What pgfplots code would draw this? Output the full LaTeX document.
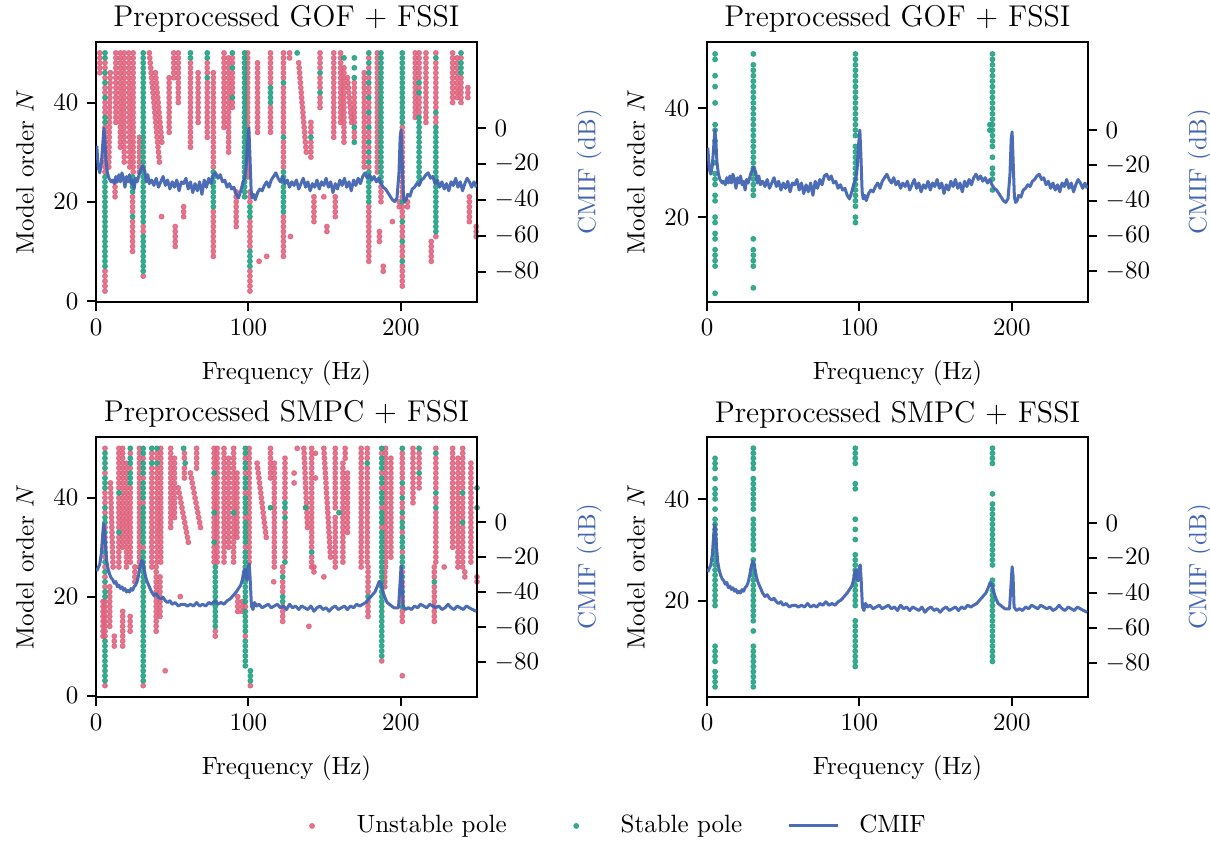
\documentclass[border=0pt]{standalone}
\usepackage{pgfplots}
\pgfplotsset{compat=1.18}
\usepackage{pgfplotstable}
\definecolor{unst}{RGB}{222,96,124}
\definecolor{stab}{RGB}{38,162,132}
\definecolor{cmif}{RGB}{66,100,178}

\pgfplotstableread[row sep=\\]{f d\\
0.5 -10\\1.5 -22\\2.5 -25\\3.5 -20\\4.5 -8\\5.2 0\\5.8 -6\\6.5 -18\\7.5 -25\\8.5 -28\\10 -30\\11 -29\\12 -31\\13 -27\\14 -30\\15 -26\\16 -30\\17 -25\\18 -28\\19 -33\\20 -27\\21 -30\\22 -26\\23 -31\\24 -29\\25 -34\\26 -28\\27 -30\\28 -27\\29 -24\\30.5 -21\\32 -24\\33 -30\\34 -26\\35 -31\\36.5 -29\\38 -32\\39.5 -28\\41 -33\\42.5 -30\\44 -27\\45.5 -32\\47 -29\\48.5 -34\\50 -30\\51.5 -33\\53 -29\\54.5 -35\\56 -30\\57.5 -31\\59 -28\\60.5 -34\\62 -30\\63.5 -36\\65 -31\\66.5 -35\\68 -30\\69.5 -37\\71 -29\\72.5 -33\\74 -28\\75.5 -31\\77 -26\\78.5 -25\\80 -28\\81.5 -26\\83 -30\\84.5 -29\\86 -33\\87.5 -31\\89 -34\\90.5 -33\\92 -37\\93.5 -39\\95 -35\\96.5 -30\\97.5 -28\\98.5 -22\\99.5 -8\\100.3 0\\101 -15\\101.8 -35\\102.5 -39\\103.5 -37\\104.5 -40\\106 -36\\107.5 -34\\109 -35\\110.5 -32\\112 -30\\113.5 -33\\115 -29\\116.5 -27\\118 -25\\119.5 -28\\121 -30\\122.5 -27\\124 -31\\125.5 -29\\127 -33\\128.5 -30\\130 -32\\131.5 -29\\133 -34\\134.5 -31\\136 -28\\137.5 -33\\139 -30\\140.5 -35\\142 -31\\143.5 -33\\145 -29\\146.5 -34\\148 -30\\149.5 -32\\151 -28\\152.5 -33\\154 -30\\155.5 -36\\157 -31\\158.5 -34\\160 -29\\161.5 -32\\163 -28\\164.5 -33\\166 -30\\167.5 -35\\169 -29\\170.5 -32\\172 -28\\173.5 -31\\175 -27\\176.5 -25\\178 -28\\179.5 -26\\181 -29\\182.5 -27\\184 -30\\185.5 -28\\187 -31\\188.5 -33\\190 -34\\191.5 -36\\193 -38\\194.5 -40\\196 -41\\197.5 -39\\198.8 -25\\199.6 -5\\200.2 -1\\200.9 -18\\201.7 -38\\202.5 -41\\203.5 -40\\204.5 -37\\206 -38\\207.5 -34\\209 -33\\210.5 -31\\212 -32\\213.5 -29\\215 -28\\216.5 -26\\218 -25\\219.5 -28\\221 -27\\222.5 -31\\224 -29\\225.5 -33\\227 -30\\228.5 -34\\230 -31\\231.5 -35\\233 -30\\234.5 -32\\236 -28\\237.5 -33\\239 -30\\240.5 -35\\242 -31\\243.5 -28\\245 -30\\246.5 -33\\248 -30\\249.5 -33\\
}\gofcmif

\pgfplotstableread[row sep=\\]{f d\\
0.5 -28\\1.5 -26\\2.5 -24\\3.5 -18\\4.3 -8\\5 -1\\5.6 -4\\6.3 -14\\7 -22\\8 -27\\9 -30\\10 -32\\11 -33\\12 -35\\13 -34\\14 -37\\15 -36\\16 -38\\17 -37\\18 -39\\19 -38\\20 -40\\21 -39\\22 -40\\23 -38\\24 -39\\25 -37\\26 -36\\27 -34\\28 -30\\29 -25\\30 -22\\30.8 -23\\31.6 -27\\32.5 -31\\33.5 -34\\34.5 -36\\35.5 -38\\36.5 -40\\38 -42\\39.5 -41\\41 -43\\42.5 -44\\44 -43\\45.5 -45\\47 -46\\48.5 -45\\50 -47\\52 -46\\54 -48\\56 -47\\58 -47\\60 -48\\62 -47\\64 -48\\66 -46\\68 -48\\70 -47\\72 -48\\74 -46\\76 -47\\78 -45\\80 -47\\82 -46\\84 -47\\86 -45\\88 -44\\90 -42\\92 -40\\93.5 -38\\95 -36\\96 -33\\97 -28\\97.7 -27\\98.4 -32\\99.2 -33\\100 -25\\100.6 -24\\101.3 -35\\102 -48\\103 -50\\104 -46\\105.5 -48\\107 -47\\109 -49\\111 -48\\113 -47\\115 -49\\117 -48\\119 -47\\121 -49\\123 -48\\125 -50\\127 -47\\129 -49\\131 -48\\133 -50\\135 -48\\137 -49\\139 -50\\141 -48\\143 -51\\145 -49\\147 -48\\149 -50\\151 -49\\153 -51\\155 -49\\157 -48\\159 -50\\161 -49\\163 -48\\165 -50\\167 -48\\169 -49\\171 -47\\173 -48\\175 -47\\177 -46\\179 -44\\181 -42\\183 -40\\184.5 -37\\185.8 -34\\187 -35\\188 -39\\189.5 -43\\191 -46\\192.5 -47\\194 -48\\195.5 -49\\197 -49\\198.5 -49\\199.5 -35\\200.2 -25\\200.8 -30\\201.5 -48\\203 -50\\205 -49\\207 -50\\209 -48\\211 -49\\213 -47\\215 -48\\217 -49\\219 -47\\221 -48\\223 -49\\225 -48\\227 -50\\229 -49\\231 -47\\233 -49\\235 -50\\237 -48\\239 -49\\241 -50\\243 -48\\245 -49\\247 -50\\249.5 -51\\
}\smpccmif

\pgfplotstableread[row sep=\\]{f N\\
2.5 50\\2.5 49\\2.5 48\\2.5 47\\2.5 46\\
5.9 48\\5.9 47\\5.9 45\\5.9 43\\5.9 42\\5.9 40\\5.9 39\\5.9 38\\5.9 35\\5.9 34\\5.9 33\\5.9 32\\5.9 31\\5.9 30\\5.9 29\\5.9 28\\5.9 27\\5.9 26\\5.9 6\\5.9 5\\5.9 4\\5.9 3\\5.9 2\\
9.4 46\\9.3 45\\9.3 44\\9.2 43\\9.2 42\\9.1 41\\9.0 40\\9.0 39\\8.9 38\\8.9 37\\8.8 36\\8.8 35\\8.7 34\\8.7 33\\8.6 32\\8.6 31\\8.5 30\\8.5 29\\8.4 28\\8.4 27\\
13 50\\13 49\\13 48\\13 47\\13 46\\13 45\\13 44\\13 43\\13 42\\13 41\\13 40\\13 39\\13 38\\13 37\\13 36\\12.5 24\\12.5 23\\12.5 22\\12.5 21\\
16 50\\16 49\\16 48\\16 47\\16 46\\16 45\\16 44\\16 43\\16 42\\16 41\\16 40\\16 39\\16 38\\16 37\\16 36\\16 35\\16 34\\16 33\\16 32\\16 31\\
18.5 50\\18.5 49\\18.5 48\\18.5 47\\18.5 46\\18.5 45\\18.5 44\\18.5 43\\18.5 42\\18.5 41\\18.5 40\\18.5 39\\18.5 38\\18.5 37\\18.5 36\\18.5 35\\18.5 34\\18.5 33\\18.5 32\\18.5 31\\18.5 30\\18.5 29\\18.5 28\\
21.5 50\\21.5 49\\21.5 48\\21.6 47\\21.6 46\\21.6 45\\21.7 44\\21.7 43\\21.7 42\\21.8 41\\21.8 40\\21.8 39\\21.9 38\\21.9 37\\21.9 36\\22 35\\22 34\\22 33\\22.1 32\\22.1 31\\22.1 30\\22.2 29\\22.2 28\\22.2 27\\
24.4 50\\24.4 49\\24.4 48\\24.4 47\\24.4 46\\24.4 45\\24.4 44\\24.4 43\\24.4 42\\24.4 41\\24.4 40\\24.4 39\\24.4 38\\24.4 37\\24.4 36\\24.4 35\\24.4 34\\24.4 33\\24.4 32\\24.4 31\\24.4 30\\24.4 29\\24.4 28\\24.4 27\\24.4 26\\
24 21\\24 20\\24 19\\24 18\\24 16\\24 15\\24 14\\24 13\\24 12\\24 11\\24 10\\
28.5 33\\28.5 32\\28.5 31\\28.5 30\\28.5 29\\28.5 28\\28.5 27\\28.5 26\\
31 15\\31 14\\31 5\\
35 50\\35.3 49\\35.6 48\\35.9 47\\36.2 46\\36.5 45\\36.8 44\\37.1 43\\37.4 42\\37.7 41\\38 40\\38.3 39\\38.6 38\\38.9 37\\39.2 36\\39.5 35\\39.8 34\\40.1 33\\40.4 32\\40.7 31\\41 30\\41.3 29\\41.6 28\\
39 46\\39.3 45\\39.6 44\\39.9 43\\40.2 42\\40.5 41\\40.8 40\\41.1 39\\41.4 38\\41.7 37\\42 36\\42.3 35\\42.6 34\\42.9 33\\43.2 32\\
43 17\\
48 45\\48 44\\48 43\\48 42\\48 41\\48 40\\48 39\\48 38\\48 37\\48 36\\48 35\\48 34\\
51 50\\51 49\\51 48\\51 47\\51 46\\51 45\\
54 50\\54 49\\54 48\\54 47\\54 46\\54 45\\54 44\\54 43\\54 42\\54 41\\54 40\\
52 15\\52 14\\52 13\\52 12\\52 11\\
57.5 19\\57.5 18\\57.5 17\\
62 48\\62 47\\62 46\\62 45\\62 44\\62 43\\62 42\\62 41\\62 40\\62 39\\62 38\\62 37\\62 36\\62 35\\62 34\\62 33\\62 32\\62 31\\
67 46\\67 45\\67 44\\67 43\\67 42\\67 41\\67 40\\67 39\\67 38\\67 37\\67 36\\
73 48\\73 47\\73 46\\73 44\\73 43\\73 42\\73 41\\73 40\\73 39\\73 38\\73 37\\73 36\\73 35\\73 34\\73 33\\
77 46\\77 45\\77 44\\77 43\\77 42\\77 41\\77 40\\77 39\\77 38\\77 37\\77 36\\77 35\\77 34\\77 33\\77 32\\77 31\\77 30\\77 29\\77 28\\77 27\\77 18\\77 17\\77 16\\77 15\\77 14\\77 13\\77 12\\77 11\\77 10\\77 9\\
84 50\\84 49\\84 48\\84 47\\84 46\\84 45\\84 44\\84 43\\84 42\\84 41\\84 40\\84 39\\84 38\\84 37\\84 36\\84 35\\
87 49\\87 48\\87 47\\87 46\\87 45\\87 44\\87 43\\87 42\\87 41\\87 40\\87 39\\87 38\\87 37\\87 36\\87 35\\87 34\\87 33\\87 32\\87 31\\87 30\\
89.5 49\\89.5 48\\89.5 46\\89.5 45\\89.5 44\\89.5 43\\89.5 42\\89.5 40\\89.5 39\\
92 22\\92 21\\92 20\\92 19\\92 18\\92 17\\92 16\\92 15\\
99.5 50\\99.5 49\\99.5 48\\99.5 47\\99.5 46\\99.5 45\\99.5 44\\99.5 43\\99.5 42\\99.5 41\\99.5 40\\99.5 39\\99.5 38\\99.5 37\\99.5 36\\99.5 35\\99.5 34\\99.5 33\\99.5 32\\99.5 31\\99.5 30\\99.5 29\\99.5 28\\99.5 27\\99.5 26\\99.5 25\\
101 22\\101 21\\101 20\\101 16\\101 15\\101 14\\101 13\\101 12\\101 11\\101 6\\101 5\\101 4\\101 3\\101 2\\
106 48\\106 47\\106 46\\106 45\\106 44\\106 43\\106 42\\106 41\\106 40\\106 39\\106 38\\106 37\\106 36\\106 35\\106 34\\107 8\\112 9\\
114.5 50\\114.5 49\\114.5 48\\114.5 47\\114.5 46\\114.5 45\\114.5 44\\114.5 39\\114.5 38\\114.5 37\\114.5 36\\114.5 35\\114.5 34\\
123 50\\123 49\\123 48\\123 47\\123 46\\123 45\\123 43\\123 42\\123 41\\123 40\\123 39\\123 38\\123 37\\123 36\\123 35\\123 34\\123 32\\123 31\\123 30\\123 29\\123 28\\123 27\\123 17\\123 16\\123 15\\123 14\\123 13\\123 12\\123 11\\123 10\\123 9\\
127 50\\127 49\\127.6 13\\
133 48\\133.3 47\\133.6 46\\133.8 45\\134.1 44\\134.4 43\\134.7 42\\134.9 41\\135.2 40\\135.5 39\\135.8 38\\136 37\\136.3 36\\136.6 35\\136.9 34\\137.1 33\\137.4 32\\137.7 31\\138 30\\
141 36\\141 35\\141 34\\141 32\\141 31\\141 30\\141 29\\
143 21\\143 20\\143 19\\143 18\\143 17\\143 16\\
147 50\\147 49\\147 48\\147 47\\147 45\\147 44\\147 43\\147 41\\147 40\\147 39\\
149.5 21\\151.5 15\\151.5 14\\
156 50\\156 49\\156 48\\156 47\\156 46\\156 45\\156 44\\156 43\\156 42\\156 41\\156 40\\156 39\\156 38\\156 37\\156 36\\156 35\\156 34\\156 33\\
160.5 50\\160.5 49\\160.5 48\\160.5 47\\160.5 46\\160.5 45\\160.5 44\\160.5 43\\160.5 42\\160.5 41\\160.5 40\\160.5 39\\160.5 38\\160.5 37\\160.5 36\\
157 21\\157 20\\157 19\\157 18\\157 17\\
162.7 47\\162.7 46\\162.7 45\\162.7 44\\162.7 43\\162.7 42\\162.7 41\\162.7 40\\162.7 39\\162.7 38\\162.7 37\\162.7 36\\162.7 35\\162.7 34\\162.7 33\\162.7 32\\
165 45\\165.3 44\\165.6 43\\165.9 42\\166.2 41\\166.5 40\\166.8 39\\167.1 38\\167.4 37\\167.7 36\\
169.5 44\\169.5 43\\169.5 42\\169.5 41\\169.5 40\\169.5 39\\169.5 38\\169.5 37\\169.5 36\\169.5 34\\169.5 33\\
179 49\\179 47\\179 45\\179 43\\179 42\\179 40\\179 39\\179 37\\179 36\\179 34\\179 33\\179 31\\179 29\\179 27\\179 19\\179 18\\179 17\\179 16\\179 15\\179 14\\179 13\\179 12\\179 11\\179 10\\179 9\\179 8\\
176 46\\176 45\\176 44\\176 43\\176 42\\176 41\\176 40\\176 39\\176 38\\176 37\\176 36\\176 35\\176 34\\176 33\\176 32\\176 31\\176 30\\176 29\\176 28\\176 27\\
184.6 50\\184.6 49\\184.6 48\\184.6 47\\184.6 46\\184.6 45\\184.6 44\\184.6 43\\184.6 42\\184.6 41\\184.6 40\\184.6 39\\184.6 38\\184.6 37\\184.6 36\\184.6 35\\184.6 34\\184.6 33\\184.6 32\\184.6 31\\184.6 30\\184.6 29\\184.6 28\\184.6 27\\184.6 26\\
187 23\\187 22\\187 21\\187 20\\186 14\\186 13\\186 12\\188.5 7\\188.5 6\\194.5 16\\
201 35\\201 34\\201 33\\201 32\\201 31\\201 30\\201 29\\201 28\\201 27\\201 26\\201 25\\201 24\\201 23\\201 22\\201 21\\201 19\\201 18\\201 17\\201 15\\201 14\\201 13\\201 11\\201 10\\201 9\\201 7\\201 6\\201 5\\201 4\\201 3\\
199 20\\199 19\\204.4 20\\204.4 19\\
209.5 50\\209.5 49\\209.5 48\\209.5 47\\209.5 46\\209.5 45\\209.5 44\\209.5 43\\209.5 42\\209.5 41\\209.5 40\\209.5 39\\209.5 38\\209.5 37\\
216.5 50\\216.5 49\\216.5 48\\216.5 47\\216.5 46\\216.5 45\\216.5 44\\216.5 43\\216.5 42\\216.5 41\\216.5 40\\216.5 39\\216.5 38\\216.5 37\\216.5 36\\
212 50\\212 49\\212 48\\212 47\\212 46\\212 45\\212 43\\212 41\\212 40\\212 39\\212 38\\
223 50\\223 48\\223 47\\223 46\\223 45\\223 44\\223 43\\223 42\\223 41\\223 40\\223 39\\223 37\\223 36\\223 13\\
220 12\\220 11\\220 10\\220 9\\220 8\\
234 50\\234 49\\234 48\\234 47\\234 46\\234 45\\234 44\\234 43\\234 42\\234 41\\234 40\\
237 49\\237 48\\237 47\\237 46\\237 45\\237 44\\237 43\\237 42\\237 41\\
239.5 49\\239.5 45\\239.5 44\\239.5 43\\239.5 42\\239.5 41\\239.5 40\\
244 43\\244 42\\244 41\\245 21\\245 20\\245 19\\245 18\\245 17\\245 16\\249.5 15\\249.5 14\\249.5 13\\
}\tlred

\pgfplotstableread[row sep=\\]{f N\\
5.9 50\\5.9 49\\5.9 46\\5.9 44\\5.9 41\\5.9 37\\5.9 36\\5.9 25\\5.9 24\\5.9 23\\5.9 22\\5.9 21\\5.9 20\\5.9 19\\5.9 18\\5.9 17\\5.9 16\\5.9 15\\5.9 14\\5.9 13\\5.9 12\\5.9 11\\5.9 10\\5.9 9\\5.9 8\\5.9 7\\
24 25\\24 24\\24 23\\24 22\\24 17\\
31 50\\31 49\\31 48\\31 47\\31 46\\31 45\\31 44\\31 43\\31 42\\31 41\\31 40\\31 39\\31 38\\31 37\\31 36\\31 35\\31 34\\31 33\\31 32\\31 31\\31 30\\31 29\\31 28\\31 27\\31 26\\31 25\\31 24\\31 23\\31 22\\31 21\\31 20\\31 19\\31 18\\31 17\\31 16\\31 13\\31 12\\31 11\\31 10\\31 9\\31 8\\31 7\\31 6\\
62 50\\62 49\\73 50\\73 49\\73 45\\
77 26\\77 25\\77 24\\77 23\\77 22\\77 21\\77 20\\77 19\\
89.5 50\\89.5 47\\89.5 41\\
97.5 50\\97.5 49\\97.5 48\\97.5 47\\97.5 46\\97.5 45\\97.5 44\\97.5 43\\97.5 42\\97.5 41\\97.5 40\\97.5 39\\97.5 38\\97.5 37\\97.5 36\\97.5 35\\97.5 34\\97.5 33\\97.5 32\\97.5 31\\97.5 30\\97.5 29\\97.5 28\\97.5 27\\97.5 26\\97.5 25\\97.5 24\\97.5 23\\97.5 22\\97.5 21\\
101 19\\101 18\\101 17\\101 10\\101 9\\101 8\\101 7\\
114.5 43\\114.5 42\\114.5 41\\114.5 40\\
123 44\\123 33\\123 26\\123 25\\123 24\\123 23\\123 22\\123 21\\123 20\\123 19\\123 18\\
132 50\\141 33\\147 46\\147 42\\162.7 49\\
169.5 49\\169.5 47\\169.5 45\\169.5 35\\169.5 32\\
179 50\\179 48\\179 46\\179 44\\179 41\\179 38\\179 35\\179 32\\179 30\\179 28\\179 26\\179 25\\179 24\\179 23\\179 22\\179 21\\179 20\\
187 50\\187 49\\187 48\\187 47\\187 46\\187 45\\187 44\\187 43\\187 42\\187 41\\187 40\\187 39\\187 38\\187 37\\187 36\\187 35\\187 34\\187 33\\187 32\\187 31\\187 30\\187 29\\187 28\\187 27\\187 26\\187 25\\187 24\\
201 50\\201 49\\201 48\\201 47\\201 46\\201 45\\201 44\\201 43\\201 42\\201 41\\201 40\\201 39\\201 38\\201 37\\201 36\\201 20\\201 16\\201 12\\201 8\\
212 44\\212 42\\212 37\\212 36\\212 35\\212 34\\212 33\\212 32\\212 31\\212 30\\212 29\\212 28\\212 27\\212 26\\212 25\\212 24\\
223 49\\223 38\\223 35\\223 34\\223 33\\223 32\\223 31\\223 30\\223 29\\223 28\\223 27\\223 26\\223 25\\223 24\\223 23\\223 22\\223 21\\223 20\\223 19\\223 18\\223 17\\223 16\\223 15\\223 14\\
239.5 50\\239.5 48\\239.5 47\\239.5 46\\
}\tlgreen

\pgfplotstableread[row sep=\\]{f N\\
5.9 50\\5.9 45\\5.9 41\\5.9 40\\5.9 39\\5.9 37\\5.9 34\\5.9 32\\5.9 30\\5.9 28\\5.9 26\\5.9 24\\5.9 22\\5.9 19\\5.9 18\\5.9 17\\5.9 16\\5.9 15\\5.9 14\\5.9 13\\5.9 12\\5.9 2\\
4.6 19\\4.6 18\\4.6 17\\4.6 16\\4.6 15\\4.6 14\\4.6 13\\4.6 12\\
9.5 43\\9.6 42\\9.7 41\\9.8 40\\9.9 39\\10 38\\10.1 37\\10.2 36\\10.3 35\\10.4 34\\10.5 33\\10.6 32\\10.7 31\\10.8 30\\10.9 29\\11 28\\11.1 27\\11.2 26\\
9 22\\9 21\\9 20\\9 19\\9 18\\9 17\\9 16\\9 15\\9 14\\12 12\\12 11\\12 10\\
17.5 17\\17.5 16\\17.5 15\\17.5 14\\17.5 13\\17.5 12\\17.5 11\\17.5 10\\
15 50\\15 49\\15 48\\15 47\\15 46\\15 45\\15 44\\15 43\\15 42\\15 40\\15 39\\15 38\\15 37\\15 36\\15 35\\15 34\\15 32\\15 31\\15 30\\15 29\\15 28\\15 27\\15 26\\
17.5 50\\17.5 49\\17.5 48\\17.5 47\\17.5 46\\17.5 45\\17.5 44\\17.5 43\\17.5 42\\17.5 41\\17.5 40\\17.5 39\\17.5 38\\17.5 37\\17.5 36\\17.5 35\\17.5 34\\17.5 33\\17.5 32\\17.5 31\\17.5 30\\
20 47\\20 46\\20 45\\20 44\\20 43\\20 42\\20 41\\20 40\\20 39\\20 38\\20 37\\20 36\\20 35\\20 34\\20 33\\20 32\\20 31\\20 30\\20 29\\20 28\\20 27\\20 26\\
22.5 49\\22.5 46\\22.5 42\\22.5 41\\22.5 40\\22.5 39\\22.5 38\\22.5 37\\22.5 36\\22.5 35\\22.5 34\\22.5 33\\22.5 32\\22.5 31\\22.5 30\\22.5 29\\22.5 28\\22.5 27\\
22.4 16\\22.4 15\\22.4 14\\22.4 13\\25.5 26\\25.5 25\\25.5 24\\25.5 23\\
28.5 50\\28.5 49\\28.5 48\\28.5 47\\28.5 46\\28.5 45\\28.5 44\\28.5 43\\28.5 42\\28.5 41\\28.5 40\\28.5 39\\28.5 38\\28.5 37\\28.5 36\\28.5 35\\28.5 34\\28.5 33\\28.5 32\\28.5 31\\28.5 30\\28.5 29\\28.5 28\\28.5 27\\28.5 26\\
31 48\\31 44\\31 39\\31 30\\31 2\\
36.6 49\\36.6 48\\36.6 46\\36.6 45\\36.6 44\\36.6 43\\36.6 42\\36.6 41\\36.6 40\\36.6 39\\36.6 38\\36.6 37\\36.6 36\\36.6 35\\36.6 34\\36.6 33\\36.6 32\\36.6 31\\36.6 30\\36.6 29\\36.6 28\\36.6 27\\36.6 26\\
40 49\\40 48\\40 46\\40 45\\40 44\\40 43\\40 42\\40 41\\40 40\\40 39\\40 38\\40 37\\40 36\\40 35\\40 34\\40 33\\40 32\\40 31\\40 30\\40 29\\40 28\\40 27\\
42.5 50\\42.5 49\\42.5 48\\42.5 47\\42.5 46\\42.5 45\\42.5 44\\42.5 43\\42.5 42\\42.5 41\\42.5 40\\42.5 39\\42.5 38\\42.5 37\\42.5 36\\42.5 35\\42.5 34\\42.5 33\\42.5 32\\42.5 31\\42.5 30\\42.5 29\\42.5 28\\42.5 27\\
39.5 26\\39.5 25\\39.5 24\\39.5 23\\39.5 22\\39.5 21\\39.5 20\\39.5 19\\39.5 18\\39.5 17\\39.5 16\\39.5 15\\39.5 14\\39.5 13\\
42 24\\42 23\\42 22\\42 21\\42 20\\42 19\\42 18\\42 17\\42 16\\
45.4 5\\55.3 20\\
49 50\\49 49\\49 48\\49 47\\49 46\\49 45\\49 44\\49 43\\49 42\\49 41\\49 40\\49 39\\49 38\\49 37\\49 36\\49 35\\49 34\\
51.5 48\\51.5 47\\51.5 46\\51.5 45\\51.5 44\\51.5 43\\51.5 42\\51.5 41\\51.5 40\\51.5 39\\51.5 38\\51.5 37\\51.5 36\\
54 42\\54.6 41\\55.2 40\\55.8 39\\56.4 38\\57 37\\57.6 36\\58.2 35\\58.8 34\\59.4 33\\60 32\\60.6 31\\
62 45\\62.6 44\\63.2 43\\63.8 42\\64.4 41\\65 40\\65.6 39\\66.2 38\\66.8 37\\67.4 36\\68 35\\68.6 34\\
58 49\\58 48\\58 46\\58 45\\58 44\\66 50\\66 49\\66 48\\66 47\\66 46\\
77.5 50\\77.5 49\\77.5 48\\77.5 47\\77.5 46\\77.5 44\\77.5 43\\77.5 42\\77.5 41\\77.5 40\\77.5 39\\77.5 38\\77.5 36\\77.5 35\\77.5 34\\77.5 33\\77.5 32\\77.5 30\\77.5 29\\77.5 28\\77.5 27\\
79.5 50\\79.5 49\\79.5 48\\79.5 47\\79.5 46\\79.5 45\\79.5 44\\79.5 43\\79.5 42\\79.5 41\\79.5 40\\79.5 39\\79.5 38\\79.5 37\\79.5 36\\79.5 35\\79.5 34\\79.5 33\\79.5 32\\79.5 31\\79.5 30\\79.5 29\\79.5 28\\79.5 27\\
78.3 13\\78.3 12\\
84 50\\84 49\\84 48\\84 47\\84 46\\84 45\\84 44\\84 43\\84 42\\84 41\\84 40\\84 39\\84 38\\84 37\\84 36\\84 35\\84 34\\84 33\\84 32\\84 31\\84 30\\84 29\\84 28\\84 27\\
87 48\\87 47\\87 46\\87 45\\87 44\\87 43\\87 42\\87 41\\87 40\\87 39\\87 38\\87 37\\87 36\\87 35\\87 34\\87 33\\87 32\\87 31\\87 30\\
90.3 50\\90.3 49\\90.3 48\\90.3 47\\90.3 46\\90.3 45\\90.3 44\\90.3 43\\90.3 42\\90.3 41\\90.3 40\\90.3 39\\90.3 38\\90.3 36\\90.3 35\\90.3 34\\90.3 33\\90.3 32\\90.3 31\\90.3 30\\90.3 29\\90.3 28\\90.3 27\\
92.5 45\\92.5 44\\92.5 43\\92.5 42\\92.5 41\\92.5 40\\92.5 39\\92.5 38\\92.5 37\\92.5 36\\92.5 35\\92.5 34\\92.5 33\\92.5 32\\
93 20\\93 19\\93 18\\93 17\\96 19\\96 18\\96 17\\
98 48\\98 45\\98 41\\98 36\\98 30\\98 24\\98 18\\98 12\\
100.5 50\\100.5 49\\100.5 48\\100.5 47\\100.5 46\\100.5 45\\100.5 44\\100.5 43\\100.5 42\\100.5 41\\100.5 40\\100.5 39\\100.5 38\\100.5 37\\100.5 36\\100.5 35\\100.5 34\\100.5 33\\100.5 32\\100.5 31\\100.5 30\\100.5 29\\100.5 28\\100.5 27\\101.3 2\\
105.7 47\\106.1 46\\106.5 45\\106.9 44\\107.3 43\\107.7 42\\108.1 41\\108.5 40\\108.9 39\\109.3 38\\109.7 37\\110.1 36\\110.5 35\\110.9 34\\111.3 33\\111.7 32\\
114.5 50\\114.5 49\\114.5 48\\114.5 47\\114.5 46\\114.5 45\\114.5 44\\
117 47\\117 46\\117 45\\117 44\\117 43\\117 42\\117 41\\117 40\\117 39\\117 38\\117 37\\117 36\\117 35\\117 34\\117 33\\117 32\\117 31\\117 30\\117 29\\117 28\\117 27\\117 26\\116.6 23\\
122.5 26\\122.5 25\\122.5 23\\122.5 22\\122.5 21\\122.5 18\\122.5 17\\122.5 16\\122.5 15\\
124 48\\124 47\\124 46\\124 45\\124 44\\124 43\\124 42\\124 41\\124 40\\124 37\\124 35\\124 34\\124 33\\124 32\\124 31\\124 30\\124 29\\124 28\\
130 45\\130 43\\132 50\\
136.4 50\\136.6 49\\136.7 48\\136.9 47\\137 46\\137.2 45\\137.3 44\\137.5 43\\137.6 42\\137.8 41\\137.9 40\\138.1 39\\138.2 38\\138.4 37\\138.5 36\\138.7 35\\138.8 34\\
141.5 50\\141.5 49\\141.5 48\\141.5 47\\141.5 46\\141.5 45\\141.5 44\\141.5 43\\141.5 42\\141.5 41\\141.5 40\\141.5 39\\141.5 38\\141.5 37\\141.5 36\\141.5 35\\141.5 34\\141.5 33\\141.5 32\\141.5 31\\141.5 30\\141.5 28\\141.5 27\\141.5 26\\
144 49\\144 44\\139.7 14\\143 26\\143 25\\149.5 24\\
149.5 50\\149.7 49\\149.9 48\\150.1 47\\150.3 46\\150.5 45\\150.7 44\\150.9 43\\151.1 42\\151.3 41\\151.5 40\\151.7 39\\151.9 38\\152.1 37\\152.3 36\\152.5 35\\152.7 34\\152.9 33\\153.1 32\\153.3 31\\153.5 30\\153.7 29\\153.9 28\\
157 50\\157 49\\157 48\\157 47\\157 46\\157 45\\157 44\\157 43\\157 42\\157 41\\157 40\\157 39\\157 38\\157 36\\157 35\\157 34\\157 33\\157 32\\157 31\\157 30\\157 29\\157 28\\157 27\\157 26\\
162 47\\162 46\\162 45\\162 44\\162 43\\162 42\\162 41\\162 40\\162 39\\162 38\\162 37\\162 36\\162 35\\162 34\\162 33\\162 32\\162 31\\162 30\\162 29\\162 28\\162 27\\
165 45\\165 44\\165 43\\165 42\\165 41\\165 40\\165 39\\165 38\\165 37\\165 36\\165 35\\165 34\\165 33\\163.5 50\\163.5 49\\163.5 48\\
174 50\\174 49\\174 48\\174 47\\174 46\\174 45\\174 44\\174 43\\174 42\\174 41\\174 40\\174 39\\174 38\\174 37\\174 36\\174 35\\174 34\\174 33\\174 32\\174 31\\174 30\\174 29\\174 28\\174 27\\174 26\\
178 50\\178 49\\178 48\\178 46\\178 45\\178 44\\178 43\\178 42\\178 41\\178 40\\178 39\\178 38\\178 37\\178 36\\178 35\\178 34\\178 33\\178 32\\178 31\\178 30\\178 29\\178 28\\178 27\\
178.5 26\\178.5 25\\178.5 24\\178.5 23\\178.5 22\\178.5 21\\178.5 19\\178.5 18\\178.5 17\\178.5 16\\
187.5 49\\187.5 45\\187.5 42\\187.5 38\\187.5 34\\187.5 7\\
190 50\\190 49\\190 48\\190 47\\190 46\\190 45\\190 44\\190 43\\190 42\\190 41\\190 40\\190 39\\190 38\\190 37\\190 36\\190 35\\190 34\\190 33\\190 32\\190 31\\190 30\\190 29\\190 28\\190 27\\190 26\\
193.5 48\\193.5 47\\193.5 46\\193.5 45\\193.5 44\\193.5 43\\193.5 42\\193.5 41\\193.5 40\\193.5 39\\193.5 38\\193.5 37\\193.5 36\\193.5 35\\193.5 34\\193.5 33\\193.5 32\\193.5 31\\193.5 30\\193.5 29\\193.5 28\\
189.5 25\\189.5 24\\189.5 23\\189.5 22\\
201 49\\201 48\\201 47\\201 46\\201 45\\201 44\\201 42\\201 41\\201 39\\201 38\\201 36\\201 33\\201 29\\201 25\\201 23\\201 22\\201 20\\201 19\\201 17\\201 16\\201 15\\201 4\\
208 50\\208 49\\208 48\\208 47\\208 46\\208 45\\208 44\\208 43\\208 42\\208 41\\208 40\\208 39\\
212 49\\212 48\\212 47\\212 46\\212 44\\212 43\\212 42\\
223 50\\223 48\\223 47\\223 46\\223 45\\223 44\\223 43\\223 42\\223 40\\223 39\\223 37\\223 36\\223 35\\223 34\\223 33\\223 32\\223 31\\223 30\\223 29\\223 28\\223 27\\
222 26\\222 25\\222 24\\222 22\\222 21\\222 20\\222 19\\222 18\\222 17\\222 16\\222 15\\228.5 26\\
234 50\\234 49\\234 48\\234 47\\234 46\\234 45\\234 44\\234 43\\234 42\\234 41\\234 40\\234 39\\234 38\\234 37\\234 36\\234 35\\234 34\\234 33\\234 32\\234 31\\234 30\\
237.5 48\\237.5 47\\237.5 46\\237.5 45\\237.5 44\\237.5 43\\237.5 42\\237.5 41\\237.5 40\\237.5 39\\237.5 38\\237.5 37\\237.5 36\\237.5 35\\237.5 34\\237.5 33\\237.5 32\\237.5 31\\237.5 30\\237.5 29\\237.5 28\\237.5 27\\237.5 26\\
240.6 50\\240.6 49\\240.6 48\\240.6 47\\240.6 46\\240.6 45\\240.6 44\\240.6 43\\240.6 42\\240.6 40\\240.6 39\\240.6 38\\240.6 37\\240.6 36\\240.6 34\\240.6 33\\240.6 32\\240.6 31\\240.6 30\\240.6 29\\240.6 28\\240.6 27\\240.6 26\\242 25\\242 24\\
246 47\\246 46\\246 45\\246 44\\246 43\\246 42\\246 41\\246 40\\246 39\\246 38\\246 37\\246 36\\246 35\\246 34\\246 33\\246 32\\246 31\\246 30\\246 29\\246 28\\246 27\\
250 24\\250 23\\
}\blred

\pgfplotstableread[row sep=\\]{f N\\
5.9 49\\5.9 48\\5.9 47\\5.9 46\\5.9 44\\5.9 43\\5.9 42\\5.9 38\\5.9 36\\5.9 35\\5.9 33\\5.9 31\\5.9 29\\5.9 27\\5.9 25\\5.9 23\\5.9 21\\5.9 20\\5.9 11\\5.9 10\\5.9 9\\5.9 8\\5.9 7\\5.9 6\\5.9 5\\5.9 4\\5.9 3\\
15 41\\15 33\\22.5 50\\22.5 48\\22.5 47\\22.5 45\\22.5 44\\22.5 43\\
31 50\\31 49\\31 47\\31 46\\31 45\\31 43\\31 42\\31 41\\31 40\\31 38\\31 37\\31 36\\31 35\\31 34\\31 33\\31 32\\31 31\\31 29\\31 28\\31 27\\31 26\\31 25\\31 24\\31 23\\31 22\\31 21\\31 20\\31 19\\31 18\\31 17\\31 16\\31 15\\31 14\\31 13\\31 12\\31 11\\31 10\\31 9\\31 8\\31 7\\31 6\\31 5\\31 4\\31 3\\
36.6 50\\36.6 47\\40 50\\40 47\\57.5 50\\58.5 47\\
77.5 45\\77.5 37\\77.5 31\\
78.3 26\\78.3 25\\78.3 24\\78.3 23\\78.3 22\\78.3 21\\78.3 20\\78.3 19\\78.3 18\\78.3 17\\78.3 16\\78.3 15\\78.3 14\\
90.3 37\\
98 50\\98 49\\98 47\\98 46\\98 44\\98 43\\98 42\\98 40\\98 39\\98 38\\98 37\\98 35\\98 34\\98 33\\98 32\\98 31\\98 29\\98 28\\98 27\\98 26\\98 25\\98 23\\98 22\\98 21\\98 20\\98 19\\98 17\\98 16\\98 15\\98 14\\98 13\\98 11\\98 10\\98 9\\98 8\\98 7\\98 6\\
101.3 5\\101.3 4\\101.3 3\\114.5 38\\
122.5 24\\122.5 20\\122.5 19\\124 39\\124 38\\124 36\\124 27\\
137.5 38\\141.5 29\\159.4 37\\178 47\\178.5 20\\
187.5 50\\187.5 48\\187.5 47\\187.5 46\\187.5 44\\187.5 43\\187.5 41\\187.5 40\\187.5 39\\187.5 37\\187.5 36\\187.5 35\\187.5 33\\187.5 32\\187.5 31\\187.5 30\\187.5 29\\187.5 28\\187.5 27\\187.5 26\\187.5 25\\187.5 24\\187.5 23\\187.5 22\\187.5 21\\187.5 20\\187.5 19\\187.5 18\\187.5 17\\187.5 16\\187.5 15\\187.5 14\\187.5 13\\187.5 12\\187.5 11\\187.5 10\\187.5 9\\187.5 8\\
201 50\\201 43\\201 40\\201 37\\201 35\\201 34\\201 32\\201 31\\201 30\\201 28\\201 27\\201 26\\201 24\\201 21\\201 18\\
212 50\\212 45\\223 49\\223 41\\223 38\\222 23\\240.6 41\\240.6 35\\250 42\\250 38\\
}\blgreen

\pgfplotstableread[row sep=\\]{f N\\
5.3 50\\5.3 49\\5.3 46\\5.3 44\\5.3 41\\5.3 37\\5.3 36\\5.3 34\\5.3 32\\5.3 30\\5.3 28\\5.3 27\\5.3 26\\5.3 24\\5.3 23\\5.3 20\\5.3 19\\5.3 17\\5.3 16\\5.3 14\\5.3 13\\5.3 12\\5.3 11\\5.3 6\\
30.4 50\\30.4 48\\30.4 47\\30.4 46\\30.4 45\\30.4 44\\30.4 43\\30.4 42\\30.4 41\\30.4 40\\30.4 39\\30.4 38\\30.4 37\\30.4 36\\30.4 35\\30.4 34\\30.4 33\\30.4 32\\30.4 31\\30.4 30\\30.4 29\\30.4 28\\30.4 27\\30.4 26\\30.4 25\\30.4 24\\30.4 16\\30.4 14\\30.4 13\\30.4 12\\30.4 11\\30.4 7\\
97.4 50\\97.4 49\\97.4 48\\97.4 47\\97.4 46\\97.4 45\\97.4 44\\97.4 43\\97.4 42\\97.4 41\\97.4 40\\97.4 39\\97.4 38\\97.4 37\\97.4 36\\97.4 35\\97.4 33\\97.4 32\\97.4 31\\97.4 30\\97.4 29\\97.4 28\\97.4 27\\97.4 26\\97.4 25\\97.4 24\\97.4 23\\97.4 22\\97.4 20\\97.4 19\\
187.3 50\\187.3 49\\187.3 48\\187.3 47\\187.3 46\\187.3 45\\187.3 44\\187.3 43\\187.3 42\\187.3 41\\187.3 40\\187.3 39\\187.3 38\\187.3 37\\187.3 36\\187.3 35\\187.3 34\\187.3 33\\187.3 31\\187.3 29\\187.3 28\\187.3 27\\187.3 25\\185.6 37\\185.6 36\\
}\trgreen

\pgfplotstableread[row sep=\\]{f N\\
5.3 48\\5.3 47\\5.3 46\\5.3 44\\5.3 42\\5.3 41\\5.3 40\\5.3 38\\5.3 36\\5.3 35\\5.3 34\\5.3 33\\5.3 32\\5.3 31\\5.3 30\\5.3 29\\5.3 28\\5.3 27\\5.3 26\\5.3 25\\5.3 24\\5.3 23\\5.3 22\\5.3 21\\5.3 20\\5.3 19\\5.3 11\\5.3 10\\5.3 9\\5.3 8\\5.3 6\\5.3 5\\5.3 4\\5.3 3\\
30.4 50\\30.4 49\\30.4 48\\30.4 47\\30.4 46\\30.4 44\\30.4 43\\30.4 42\\30.4 41\\30.4 40\\30.4 39\\30.4 38\\30.4 36\\30.4 35\\30.4 34\\30.4 33\\30.4 32\\30.4 31\\30.4 30\\30.4 28\\30.4 27\\30.4 26\\30.4 25\\30.4 24\\30.4 23\\30.4 22\\30.4 21\\30.4 20\\30.4 19\\30.4 18\\30.4 17\\30.4 16\\30.4 14\\30.4 11\\30.4 10\\30.4 9\\30.4 8\\30.4 7\\30.4 6\\30.4 5\\30.4 4\\30.4 3\\
97.3 50\\97.3 49\\97.3 48\\97.3 47\\97.3 43\\97.3 42\\97.3 36\\97.3 34\\97.3 32\\97.3 29\\97.3 28\\97.3 27\\97.3 26\\97.3 25\\97.3 24\\97.3 23\\97.3 22\\97.3 21\\97.3 20\\97.3 19\\97.3 16\\97.3 15\\97.3 14\\97.3 13\\97.3 12\\97.3 11\\97.3 10\\97.3 9\\97.3 8\\97.3 7\\
187.3 50\\187.3 49\\187.3 48\\187.3 47\\187.3 41\\187.3 39\\187.3 38\\187.3 37\\187.3 36\\187.3 35\\187.3 34\\187.3 33\\187.3 32\\187.3 31\\187.3 30\\187.3 29\\187.3 28\\187.3 27\\187.3 24\\187.3 23\\187.3 22\\187.3 21\\187.3 20\\187.3 19\\187.3 18\\187.3 17\\187.3 16\\187.3 15\\187.3 14\\187.3 13\\187.3 12\\187.3 11\\187.3 10\\187.3 9\\187.3 8\\
}\brgreen

\pgfplotsset{
  panel/.style={scale only axis, width=152.4pt, height=104pt, anchor=south west,
    xmin=0, xmax=250, tick align=outside, major tick length=3.5pt,
    every tick/.append style={line width=0.8pt, black},
    axis line style={line width=0.8pt, black}},
  leftax/.style={panel, xtick={0,100,200}, xtick pos=left, ytick pos=left,
    xlabel={Frequency (Hz)}, ylabel={Model order $N$},
    xlabel style={at={(axis description cs:0.5,-0.273)}, anchor=center},
    ylabel style={at={(axis description cs:-0.186,0.5)}, anchor=center},
    title style={font=\large, at={(axis description cs:0.5,1)}, anchor=base}},
  rightax/.style={panel, axis x line=none, axis y line*=right,
    ytick={-80,-60,-40,-20,0}, ylabel={CMIF (dB)},
    ylabel style={color=cmif, at={(axis description cs:1.294,0.5)}, anchor=center}},
  unstab/.style={only marks, mark=*, mark size=0.95pt, color=unst, mark options={opacity=0.85}},
  stabp/.style={only marks, mark=*, mark size=0.95pt, color=stab, mark options={opacity=0.9}},
  cmifl/.style={no marks, color=cmif, line width=1.2pt, opacity=0.95, line join=round},
}

\begin{document}
\begin{tikzpicture}
\useasboundingbox (0,0) rectangle (484pt,337.6pt);
% top left
\begin{axis}[leftax, at={(38.4pt,216.8pt)}, ymin=-0.2, ymax=52.2, ytick={0,20,40}, title={Preprocessed GOF + FSSI}]
\addplot[unstab] table[x=f,y=N] {\tlred};
\addplot[stabp] table[x=f,y=N] {\tlgreen};
\end{axis}
\begin{axis}[rightax, at={(38.4pt,216.8pt)}, ymin=-97, ymax=48]
\addplot[cmifl] table[x=f,y=d] {\gofcmif};
\end{axis}
% top right
\begin{axis}[leftax, at={(282.8pt,216.8pt)}, ymin=4.4, ymax=52.2, ytick={20,40}, title={Preprocessed GOF + FSSI}]
\addplot[stabp] table[x=f,y=N] {\trgreen};
\end{axis}
\begin{axis}[rightax, at={(282.8pt,216.8pt)}, ymin=-97.5, ymax=50]
\addplot[cmifl] table[x=f,y=d] {\gofcmif};
\end{axis}
% bottom left
\begin{axis}[leftax, at={(38.4pt,58.8pt)}, ymin=-0.3, ymax=52.3, ytick={0,20,40}, title={Preprocessed SMPC + FSSI}]
\addplot[unstab] table[x=f,y=N] {\blred};
\addplot[stabp] table[x=f,y=N] {\blgreen};
\end{axis}
\begin{axis}[rightax, at={(38.4pt,58.8pt)}, ymin=-100, ymax=48.6]
\addplot[cmifl] table[x=f,y=d] {\smpccmif};
\end{axis}
% bottom right
\begin{axis}[leftax, at={(282.8pt,58.8pt)}, ymin=1.0, ymax=52.2, ytick={20,40}, title={Preprocessed SMPC + FSSI},
  legend columns=3,
  legend image code/.code={\path[draw=none, fill=none] (0pt,-2pt) rectangle (19.6pt,2pt);
    \draw[mark repeat=2,mark phase=2,#1] plot coordinates {(0pt,0pt) (9.8pt,0pt) (19.6pt,0pt)};},
  legend style={at={(axis description cs:-0.257,-0.496)}, anchor=center, draw=none, fill=none,
    /tikz/every odd column/.append style={column sep=6pt},
    /tikz/every even column/.append style={column sep=16pt}}]
\addlegendimage{unstab}
\addlegendentry{Unstable pole}
\addlegendimage{stabp}
\addlegendentry{Stable pole}
\addlegendimage{cmifl}
\addlegendentry{CMIF}
\addplot[stabp, forget plot] table[x=f,y=N] {\brgreen};
\end{axis}
\begin{axis}[rightax, at={(282.8pt,58.8pt)}, ymin=-99.4, ymax=49.1]
\addplot[cmifl] table[x=f,y=d] {\smpccmif};
\end{axis}
\end{tikzpicture}
\end{document}
